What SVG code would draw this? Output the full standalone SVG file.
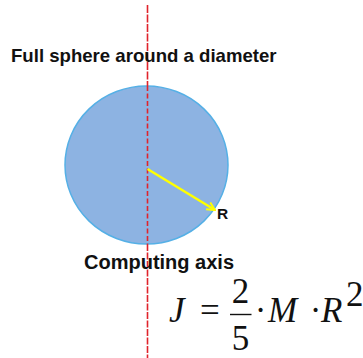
<svg xmlns="http://www.w3.org/2000/svg" width="363" height="358" viewBox="0 0 363 358">
<defs>
<style>
.lbl{font-family:"Liberation Sans",Arial,sans-serif;font-weight:bold;fill:#111}
.m{font-family:"Liberation Serif","Times New Roman",serif;font-size:35px;fill:#111}
.i{font-style:italic}
.axis{stroke:#e0232b;stroke-width:1.6;fill:none}
</style>
<marker id="ah" viewBox="0 0 10 10" refX="9" refY="5" markerWidth="4" markerHeight="4" orient="auto" markerUnits="strokeWidth">
<path d="M1,1 L9,5 L1,9" fill="none" stroke="#ffff00" stroke-width="2" stroke-linejoin="miter"/>
</marker>
</defs>
<rect width="363" height="358" fill="#fff"/>
<g id="sphere">
<ellipse cx="146.5" cy="165" rx="81.5" ry="79" fill="#8db3e2" stroke="#55b0e6" stroke-width="1.5"/>
</g>
<g id="connectors">
<line class="axis" x1="147.5" y1="5" x2="147.5" y2="86" stroke-dasharray="8 1.5"/>
<line class="axis" x1="147.5" y1="86" x2="147.5" y2="244" stroke-dasharray="5 2.5"/>
<line class="axis" x1="147.5" y1="244" x2="147.5" y2="358" stroke-dasharray="7 1.5"/>
<line x1="147.5" y1="169" x2="215" y2="210" stroke="#ffff00" stroke-width="2.5" marker-end="url(#ah)"/>
</g>
<g id="title"><text class="lbl" x="11" y="62" font-size="18.6">Full sphere around a diameter</text></g>
<g id="radius-label"><text class="lbl" x="217" y="219" font-size="15.5">R</text></g>
<g id="axis-label"><text class="lbl" x="84" y="269" font-size="20">Computing axis</text></g>
<g id="formula">
<text class="m i" x="169" y="322">J</text>
<text class="m" x="200" y="322" font-size="36">=</text>
<text class="m" x="240.5" y="303" text-anchor="middle" font-size="33">2</text>
<line x1="230" y1="314.5" x2="251.5" y2="314.5" stroke="#111" stroke-width="1.4"/>
<text class="m" x="240.5" y="349.5" text-anchor="middle" font-size="33">5</text>
<text class="m" x="260.5" y="322" text-anchor="middle">·</text>
<text class="m i" x="268" y="322">M</text>
<text class="m" x="315.5" y="322" text-anchor="middle">·</text>
<text class="m i" x="321" y="322">R</text>
<text class="m" x="346" y="306" font-size="21">2</text>
</g>
</svg>
